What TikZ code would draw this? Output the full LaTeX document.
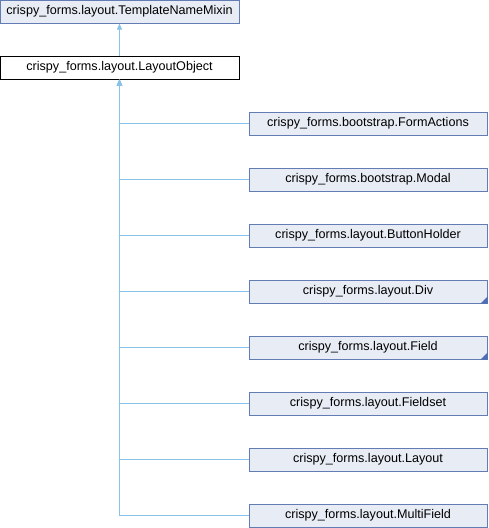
\documentclass[tikz,border=0pt]{standalone}
\usepackage{fontspec}
\setmainfont{Liberation Sans}
\usepackage{tikz}
\usetikzlibrary{arrows.meta, positioning}
\definecolor{boxfill}{RGB}{232, 236, 245}
\definecolor{boxline}{RGB}{100, 124, 180}
\definecolor{edgeblue}{RGB}{135, 195, 232}
\definecolor{markblue}{RGB}{80, 110, 180}

\begin{document}
\begin{tikzpicture}[x=1pt, y=-1pt,
    classbox/.style={draw=boxline, fill=boxfill, line width=1pt, minimum width=238pt, minimum height=23pt, inner sep=0pt, font=\fontsize{12.6}{14}\selectfont},
    focusbox/.style={classbox, draw=black, fill=white},
    inherit/.style={draw=edgeblue, line width=1pt, -{Triangle[length=6pt, width=5pt]}}]
  \useasboundingbox (0,0) rectangle (488,528);

  % Base classes
  \node[classbox, minimum width=239pt] (mixin) at (119.5, 11.5) {crispy\_forms.layout.TemplateNameMixin};
  \node[focusbox, minimum width=239pt] (layoutobj) at (119.5, 67.5) {crispy\_forms.layout.LayoutObject};

  % Derived classes
  \node[classbox] (formactions) at (368, 123.5) {crispy\_forms.bootstrap.FormActions};
  \node[classbox] (modal) at (368, 179.5) {crispy\_forms.bootstrap.Modal};
  \node[classbox] (buttonholder) at (368, 235.5) {crispy\_forms.layout.ButtonHolder};
  \node[classbox] (div) at (368, 291.5) {crispy\_forms.layout.Div};
  \node[classbox] (field) at (368, 347.5) {crispy\_forms.layout.Field};
  \node[classbox] (fieldset) at (368, 403.5) {crispy\_forms.layout.Fieldset};
  \node[classbox] (layout) at (368, 459.5) {crispy\_forms.layout.Layout};
  \node[classbox] (multifield) at (368, 515.5) {crispy\_forms.layout.MultiField};

  % More subclasses not shown
  \fill[markblue] (div.south east) -- ++(-7,0) -- ++(7,-7) -- cycle;
  \fill[markblue] (field.south east) -- ++(-7,0) -- ++(7,-7) -- cycle;

  % Inheritance
  \draw[inherit] (layoutobj) -- (mixin);
  \draw[inherit] (formactions) -| (layoutobj);
  \draw[inherit] (modal) -| (layoutobj);
  \draw[inherit] (buttonholder) -| (layoutobj);
  \draw[inherit] (div) -| (layoutobj);
  \draw[inherit] (field) -| (layoutobj);
  \draw[inherit] (fieldset) -| (layoutobj);
  \draw[inherit] (layout) -| (layoutobj);
  \draw[inherit] (multifield) -| (layoutobj);
\end{tikzpicture}
\end{document}
